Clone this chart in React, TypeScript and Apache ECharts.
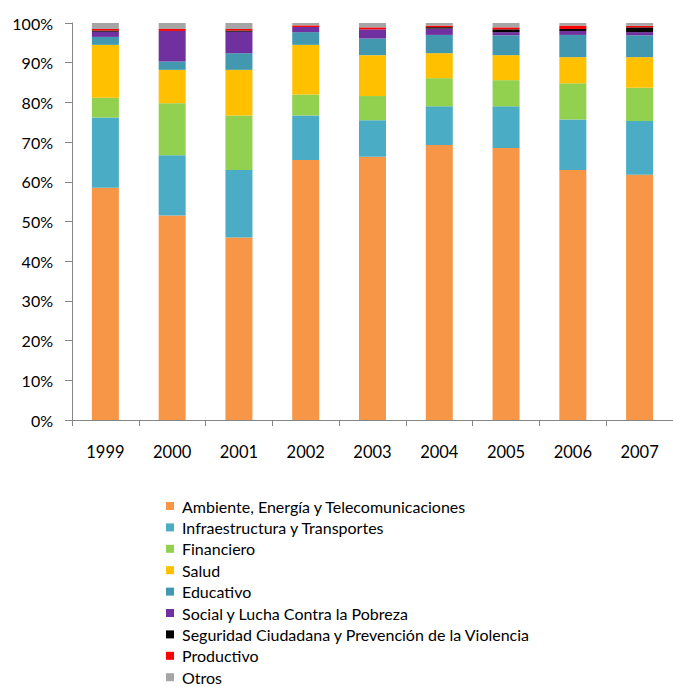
import React, { useEffect, useRef } from "react";
import * as echarts from "echarts";

const years = ["1999", "2000", "2001", "2002", "2003", "2004", "2005", "2006", "2007"];
const seriesNames = [
  "Ambiente, Energía y Telecomunicaciones",
  "Infraestructura y Transportes",
  "Financiero",
  "Salud",
  "Educativo",
  "Social y Lucha Contra la Pobreza",
  "Seguridad Ciudadana y Prevención de la Violencia",
  "Productivo",
  "Otros",
];
const ambiente = [58.5, 51.5, 46.0, 65.5, 66.3, 69.3, 68.5, 63.0, 61.8];
const infraestructura = [17.7, 15.2, 17.0, 11.2, 9.2, 9.7, 10.5, 12.7, 13.5];
const financiero = [5.0, 13.1, 13.7, 5.3, 6.1, 7.1, 6.6, 9.1, 8.4];
const salud = [13.3, 8.4, 11.5, 12.5, 10.3, 6.3, 6.3, 6.6, 7.7];
const educativo = [2.0, 2.1, 4.2, 3.2, 4.2, 4.6, 5.0, 5.6, 5.5];
const social = [1.3, 7.7, 5.4, 1.3, 2.3, 1.6, 0.8, 1.0, 0.8];
const seguridad = [0.3, 0, 0.3, 0, 0, 0.35, 0.7, 0.5, 1.2];
const productivo = [0.4, 0.5, 0.4, 0.4, 0.5, 0.4, 0.5, 0.85, 0.4];
const otros = [1.5, 1.5, 1.5, 0.6, 1.1, 0.65, 1.1, 0.65, 0.7];
const yTicks = [0, 10, 20, 30, 40, 50, 60, 70, 80, 90, 100];

const allValues = [ambiente, infraestructura, financiero, salud, educativo, social, seguridad, productivo, otros];
const colors = ["#F79646", "#4BACC6", "#92D050", "#FFC000", "#4198AF", "#7030A0", "#000000", "#FF0000", "#A5A5A5"];

const FONT = "Lato, 'Open Sans', sans-serif";

export default function App() {
  const ref = useRef<HTMLDivElement>(null);
  useEffect(() => {
    if (!ref.current) return;
    const chart = echarts.init(ref.current, undefined, { renderer: "svg" });
    chart.setOption({
      animation: false,
      color: colors,
      grid: { left: 72, right: -13, top: 23, bottom: 267, containLabel: false },
      legend: {
        orient: "vertical",
        left: 166,
        top: 498,
        height: 210,
        padding: 0,
        icon: "rect",
        itemWidth: 8,
        itemHeight: 8,
        itemGap: 5.4,
        selectedMode: false,
        textStyle: { fontFamily: FONT, fontSize: 16, color: "#000", padding: [0, 0, 0, 3] },
        data: seriesNames,
      },
      xAxis: {
        type: "category",
        data: years,
        axisLine: { lineStyle: { color: "#868686", width: 1 } },
        axisTick: { show: true, length: 6, lineStyle: { color: "#868686" } },
        axisLabel: { fontFamily: FONT, fontSize: 16.5, color: "#000", margin: 23 },
      },
      yAxis: {
        type: "value",
        min: yTicks[0],
        max: yTicks[yTicks.length - 1],
        interval: 10,
        splitLine: { show: false },
        axisLine: { show: true, lineStyle: { color: "#868686", width: 1 } },
        axisTick: { show: true, length: 7, lineStyle: { color: "#868686" } },
        axisLabel: { fontFamily: FONT, fontSize: 16, color: "#000", margin: 19, formatter: "{value}%" },
      },
      series: seriesNames.map((name, i) => ({
        name,
        type: "bar",
        stack: "total",
        barWidth: 27,
        data: allValues[i],
        itemStyle: { color: colors[i] },
      })),
    });
    return () => chart.dispose();
  }, []);
  return (
    <div
      ref={ref}
      style={{ position: "fixed", left: 0, top: 0, width: 673, height: 687, background: "#fff" }}
    />
  );
}
